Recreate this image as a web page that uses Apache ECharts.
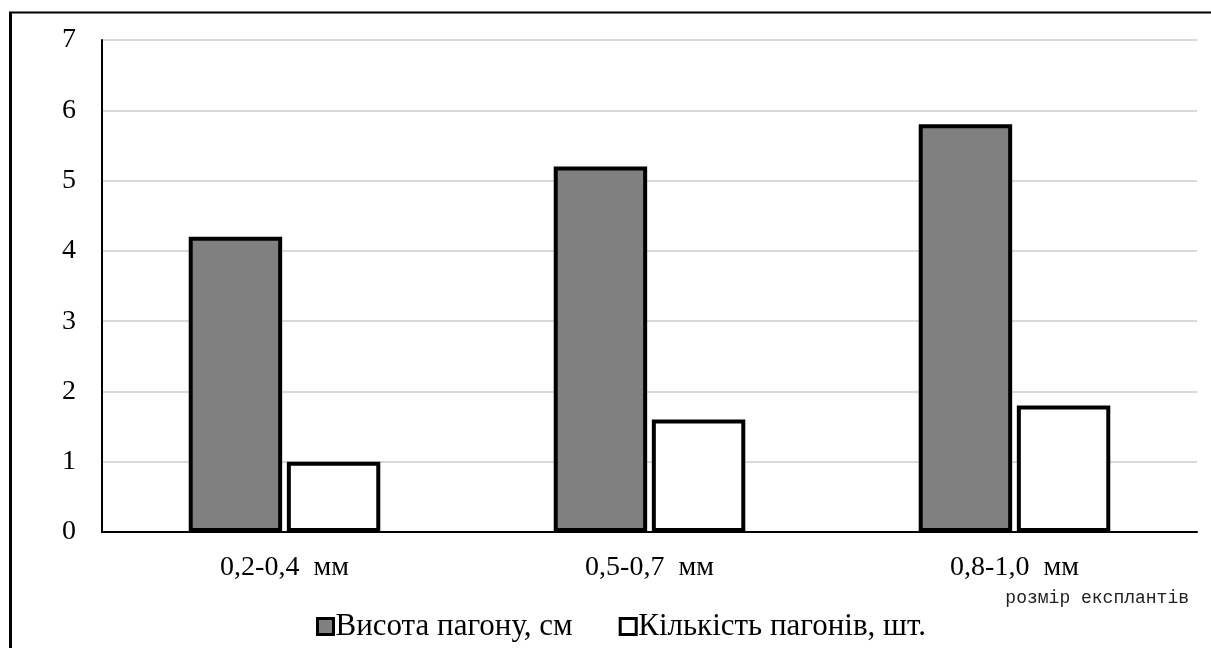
<!DOCTYPE html>
<html>
<head>
<meta charset="utf-8">
<script src="https://cdn.jsdelivr.net/npm/echarts@6/dist/echarts.min.js"></script>
<style>
html,body{margin:0;padding:0;background:#fff;}
#c{width:1211px;height:648px;}
</style>
</head>
<body>
<div id="c"></div>
<script>
const categories = ['0,2-0,4  мм', '0,5-0,7  мм', '0,8-1,0  мм'];
const heightValues = [4.2, 5.2, 5.8];
const countValues = [1.0, 1.6, 1.8];
const seriesNames = ['Висота пагону, см', 'Кількість пагонів, шт.'];
const axisTitle = 'розмір експлантів';

const serif = '"Liberation Serif", "Times New Roman", serif';
const chart = echarts.init(document.getElementById('c'));
chart.setOption({
  animation: false,
  backgroundColor: '#fff',
  graphic: [
    { type: 'line', shape: { x1: 9, y1: 12.5, x2: 1211, y2: 12.5 }, style: { stroke: '#000', lineWidth: 2 } },
    { type: 'line', shape: { x1: 10.5, y1: 12, x2: 10.5, y2: 648 }, style: { stroke: '#000', lineWidth: 3 } },
    { type: 'text', right: 22, top: 589, style: { text: axisTitle, font: '18px "Liberation Mono", monospace', fill: '#222' } }
  ],
  grid: { left: 102, right: 14, top: 40, bottom: 116, containLabel: false },
  legend: {
    left: 311, top: 606,
    icon: 'rect',
    itemWidth: 16, itemHeight: 16, itemGap: 46,
    itemStyle: { borderColor: '#000', borderWidth: 3 },
    textStyle: { fontFamily: serif, fontSize: 31, color: '#000', padding: [0, 0, 0, -3] },
    data: seriesNames
  },
  xAxis: {
    type: 'category',
    data: categories,
    axisLine: { lineStyle: { color: '#000', width: 2 } },
    axisTick: { show: false },
    axisLabel: { fontFamily: serif, fontSize: 28, color: '#000', margin: 22 }
  },
  yAxis: {
    type: 'value', min: 0, max: 7, interval: 1,
    axisLine: { show: true, lineStyle: { color: '#000', width: 2 } },
    axisTick: { show: false },
    splitLine: { lineStyle: { color: '#d9d9d9', width: 2 } },
    axisLabel: { fontFamily: serif, fontSize: 28, color: '#000', margin: 26 }
  },
  series: [
    {
      name: seriesNames[0], type: 'bar', data: heightValues,
      barWidth: '25.6%', barGap: '5%',
      itemStyle: { color: '#808080', borderColor: '#000', borderWidth: 4 }
    },
    {
      name: seriesNames[1], type: 'bar', data: countValues,
      barWidth: '25.6%', barGap: '5%',
      itemStyle: { color: '#ffffff', borderColor: '#000', borderWidth: 4 }
    }
  ]
});
</script>
</body>
</html>
